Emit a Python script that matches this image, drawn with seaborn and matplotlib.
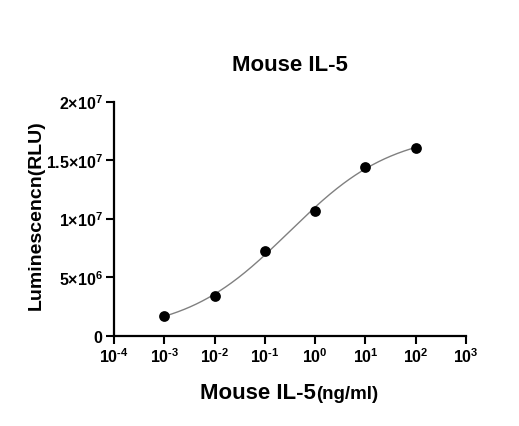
import numpy as np
import pandas as pd
import matplotlib
matplotlib.use('Agg')
import matplotlib.pyplot as plt
import seaborn as sns
from matplotlib.ticker import NullLocator

# values
conc = [1e-3, 1e-2, 1e-1, 1, 10, 100]
rlu = [1.69e6, 3.35e6, 7.2e6, 1.067e7, 1.443e7, 1.603e7]
x_ticks = [1e-4, 1e-3, 1e-2, 1e-1, 1, 10, 100, 1000]
x_exps = ['-4', '-3', '-2', '-1', '0', '1', '2', '3']
y_ticks = [0, 5e6, 1e7, 1.5e7, 2e7]
y_tick_labels = [r'$0$', r'$5{\times}10^{6}$', r'$1{\times}10^{7}$',
                 r'$1.5{\times}10^{7}$', r'$2{\times}10^{7}$']
x_tick_labels = [r'$10^{\text{%s}}$' % e for e in x_exps]


def fit_4pl(x, y):
    # crude least squares: grid over logEC50 / hill, bottom & top solved linearly
    lx = np.log10(x)
    best = None
    for c in np.linspace(-3, 2, 201):
        for h in np.linspace(0.2, 2.0, 91):
            f = 1 / (1 + 10 ** ((c - lx) * h))
            A = np.column_stack([1 - f, f])
            coef, *_ = np.linalg.lstsq(A, y, rcond=None)
            sse = ((A @ coef - y) ** 2).sum()
            if best is None or sse < best[0]:
                best = (sse, coef[0], coef[1], c, h)
    return best[1:]


df = pd.DataFrame({'conc': conc, 'rlu': rlu})
bottom, top, logec50, hill = fit_4pl(np.array(conc), np.array(rlu))
lx = np.linspace(np.log10(min(conc)), np.log10(max(conc)), 300)
curve = pd.DataFrame({'conc': 10 ** lx,
                      'rlu': bottom + (top - bottom) / (1 + 10 ** ((logec50 - lx) * hill))})

sns.set_style('ticks')
plt.rcParams['font.family'] = ['Liberation Sans', 'DejaVu Sans']
plt.rcParams['text.color'] = 'black'
plt.rcParams['axes.labelcolor'] = 'black'
# all math text in bold Arial-like font (tick labels are bold)
plt.rcParams['mathtext.fontset'] = 'custom'
plt.rcParams['mathtext.rm'] = 'Liberation Sans:bold'
plt.rcParams['mathtext.bf'] = 'Liberation Sans:bold'
plt.rcParams['mathtext.it'] = 'Liberation Sans:bold'
plt.rcParams['mathtext.default'] = 'bf'

fig = plt.figure(figsize=(5.19, 4.27), dpi=100)
ax = fig.add_axes([0.2197, 0.2119, 0.6782, 0.548])

sns.lineplot(data=curve, x='conc', y='rlu', ax=ax, color='#808080', linewidth=1.0)
sns.scatterplot(data=df, x='conc', y='rlu', ax=ax, color='black', s=60, linewidth=0, zorder=3)

ax.set_xscale('log')
ax.set_xlim(1e-4, 1e3)
ax.set_ylim(0, 2e7)
ax.set_xticks(x_ticks)
ax.set_xticklabels(x_tick_labels)
ax.xaxis.set_minor_locator(NullLocator())
ax.set_yticks(y_ticks)
ax.set_yticklabels(y_tick_labels)

for s in ['top', 'right']:
    ax.spines[s].set_visible(False)
for s in ['left', 'bottom']:
    ax.spines[s].set_linewidth(1.6)
    ax.spines[s].set_color('black')
ax.tick_params(direction='out', length=6, width=1.5, labelsize=11.5, colors='black', pad=2)

ax.set_title('Mouse IL-5', fontsize=16, fontweight='bold', pad=23)
ax.set_ylabel('Luminescencn(RLU)', fontsize=14, fontweight='bold')
ax.yaxis.set_label_coords(-0.197, 0.52)
ax.set_xlabel('')
ax.text(0.574, -0.268, 'Mouse IL-5', transform=ax.transAxes, ha='right', va='baseline',
        fontsize=16, fontweight='bold')
ax.text(0.574, -0.268, '(ng/ml)', transform=ax.transAxes, ha='left', va='baseline',
        fontsize=13.5, fontweight='bold')

fig.savefig('out.png', dpi=100)
